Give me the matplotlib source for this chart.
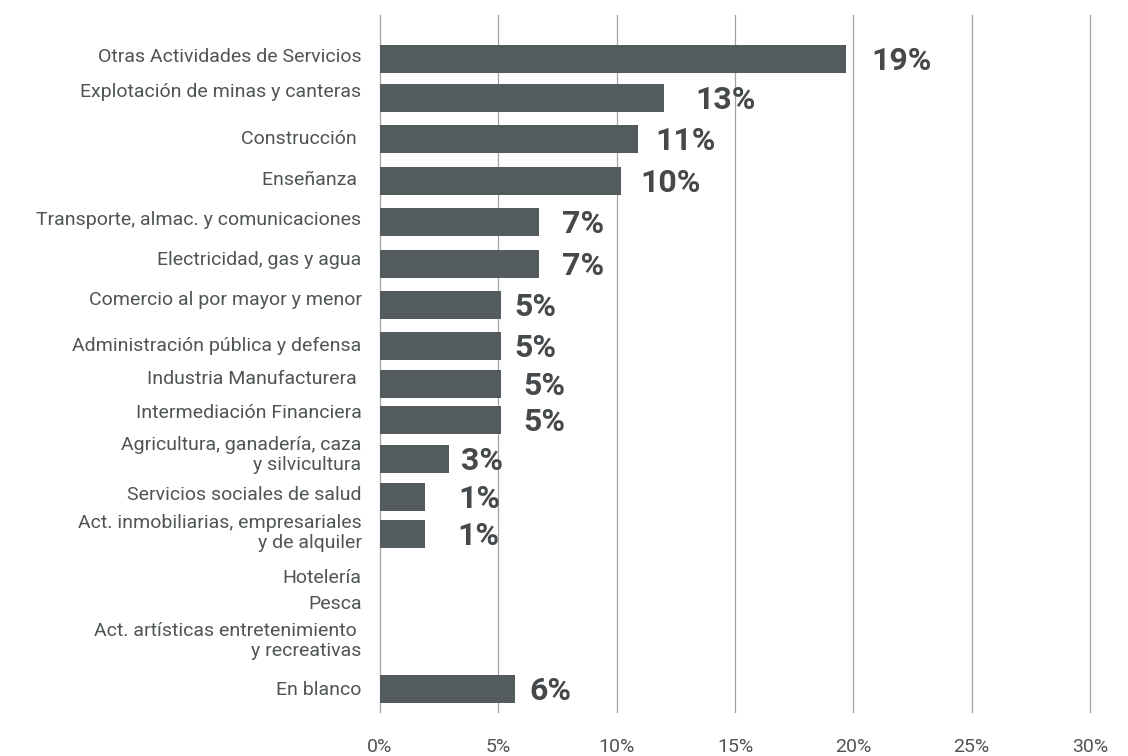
import matplotlib
matplotlib.use("Agg")
import matplotlib.pyplot as plt

# data
categories = [
    "Otras Actividades de Servicios",
    "Explotación de minas y canteras",
    "Construcción ",
    "Enseñanza ",
    "Transporte, almac. y comunicaciones",
    "Electricidad, gas y agua",
    "Comercio al por mayor y menor",
    "Administración pública y defensa",
    "Industria Manufacturera ",
    "Intermediación Financiera",
    "Agricultura, ganadería, caza\ny silvicultura",
    "Servicios sociales de salud",
    "Act. inmobiliarias, empresariales\ny de alquiler",
    "Hotelería",
    "Pesca",
    "Act. artísticas entretenimiento \ny recreativas",
    "En blanco",
]
values = [19.7, 12.0, 10.9, 10.2, 6.7, 6.7, 5.1, 5.1, 5.1, 5.1, 2.9, 1.9, 1.9, 0, 0, 0, 5.7]
value_labels = ["19%", "13%", "11%", "10%", "7%", "7%", "5%", "5%", "5%", "5%",
                "3%", "1%", "1%", "", "", "", "6%"]
xticks = [0, 5, 10, 15, 20, 25, 30]

# layout (pixel rows of the original picture)
bar_y = [59, 98, 139, 181, 222, 264, 305, 346, 384, 420, 459, 497, 534, 578, 604, 641, 689]
label_y = [57, 92, 139, 180, 220, 260, 300, 346, 379, 413, 455, 495, 533, 578, 604, 641, 690]
label_dx = [25, 31, 17, 19, 23, 23, 14, 14, 23, 23, 12, 33, 32, 0, 0, 0, 14]

bar_color = "#545b5e"
text_color = "#4f5456"
grid_color = "#a3a3a3"

plt.rcParams['font.family'] = ['Roboto', 'DejaVu Sans']

fig = plt.figure(figsize=(11.28, 7.56), dpi=100)
ax = fig.add_axes([380 / 1128, 1 - 712 / 756, (1090 - 380) / 1128, (712 - 15) / 756])

ax.barh(bar_y, values, height=28, color=bar_color, zorder=3)

ax.set_xlim(0, 30)
ax.set_ylim(712, 15)
ax.set_xticks(xticks)
ax.set_xticklabels([f"{t}%" for t in xticks], fontsize=14, color=text_color)
ax.tick_params(axis='x', length=0, pad=19)
ax.set_yticks([])
for t in xticks:
    ax.axvline(t, color=grid_color, linewidth=0.9, zorder=1, clip_on=False)
for s in ax.spines.values():
    s.set_visible(False)

for lbl, y in zip(categories, label_y):
    ax.text(-0.026, y, lbl, transform=ax.get_yaxis_transform(), ha='right', va='center',
            fontsize=14, color=text_color, linespacing=1.15)

for v, lbl, y, dx in zip(values, value_labels, bar_y, label_dx):
    if not lbl:
        continue
    ax.annotate(lbl, (v, y), xytext=(dx * 0.72, -2 * 0.72), textcoords='offset points',
                ha='left', va='center', fontsize=23, fontweight='bold', color="#45494b")

fig.savefig("out.png", dpi=100)
